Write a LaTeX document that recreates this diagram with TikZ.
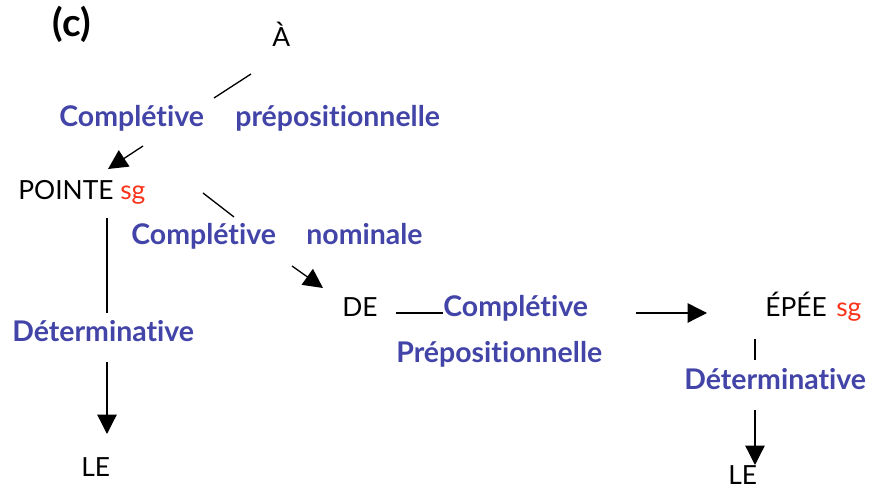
\documentclass[tikz,border=0pt]{standalone}
\usepackage{fontspec}
\setmainfont{Lato}[Ligatures={NoCommon}]
\usetikzlibrary{arrows.meta}
\definecolor{relblue}{RGB}{66,68,168}
\definecolor{numred}{RGB}{250,50,25}

\begin{document}
\begin{tikzpicture}[x=0.02cm, y=-0.02cm, font=\fontsize{15}{18}\selectfont,
  word/.style={anchor=base west, inner sep=0pt},
  rel/.style={word, text=relblue, font=\fontsize{16.2}{19}\selectfont\bfseries},
  num/.style={word, text=numred},
  lnk/.style={line width=0.75pt},
  arr/.style={lnk, -{Triangle[length=11pt, width=11pt]}}]
  \useasboundingbox (0,0) rectangle (870,489);
  \node[font=\fontsize{22}{26}\selectfont\bfseries] (tag) at (72,24) {(c)};

  \node[word] (a) at (272,47) {À};
  \node[rel] (cp1) at (59,127) {Complétive};
  \node[rel] (pp1) at (235,127) {prépositionnelle};

  \node[word] (pointe) at (18,200) {POINTE};
  \node[num] (sg1) at (120,200) {sg};
  \node[rel] (cp2) at (131,245) {Complétive};
  \node[rel] (nom) at (306,245) {nominale};
  \node[rel] (det1) at (12,342) {Déterminative};
  \node[word] (le1) at (81,477) {LE};

  \node[word] (de) at (342,317) {DE};
  \node[rel] (cp3) at (443,317) {Complétive};
  \node[rel] (pp2) at (396,363) {Prépositionnelle};

  \node[word] (epee) at (765,317) {ÉPÉE};
  \node[num] (sg2) at (836,317) {sg};
  \node[rel] (det2) at (684,390) {Déterminative};
  \node[word] (le2) at (728,485) {LE};

  \coordinate (a-s) at (251,74);   \coordinate (a-e) at (214,98);
  \coordinate (p-s) at (143,146);  \coordinate (p-in) at (108,169);
  \coordinate (p-o) at (203,193);  \coordinate (p-m) at (234,217);
  \coordinate (d-s) at (292,266);  \coordinate (d-in) at (323,288);
  \coordinate (d-o) at (396,313);  \coordinate (d-m) at (443,313);
  \coordinate (e-s) at (636,313);  \coordinate (e-in) at (707,313);
  \coordinate (l1-o) at (107,218); \coordinate (l1-m) at (107,313);
  \coordinate (l1-s) at (107,362); \coordinate (l1-in) at (107,434);
  \coordinate (l2-o) at (755,339); \coordinate (l2-m) at (755,360);
  \coordinate (l2-s) at (755,410); \coordinate (l2-in) at (755,465);

  \draw[lnk] (a-s) -- (a-e);
  \draw[arr] (p-s) -- (p-in);
  \draw[lnk] (p-o) -- (p-m);
  \draw[arr] (d-s) -- (d-in);
  \draw[lnk] (d-o) -- (d-m);
  \draw[arr] (e-s) -- (e-in);
  \draw[lnk] (l1-o) -- (l1-m);
  \draw[arr] (l1-s) -- (l1-in);
  \draw[lnk] (l2-o) -- (l2-m);
  \draw[arr] (l2-s) -- (l2-in);
\end{tikzpicture}
\end{document}
